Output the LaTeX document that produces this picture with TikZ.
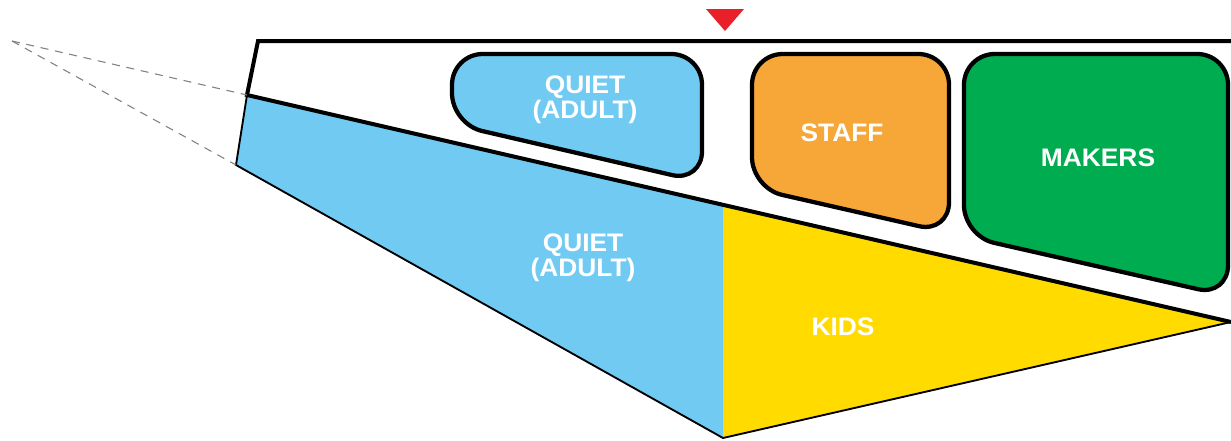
\documentclass[tikz,border=0pt]{standalone}
\usepackage{fontspec}
\setmainfont{Liberation Sans}[FakeStretch=1.04]
\usepackage{xcolor}
\usepackage{tikz}

\definecolor{quietblue}{RGB}{112,202,242}
\definecolor{staffor}{RGB}{247,166,56}
\definecolor{makergreen}{RGB}{0,172,80}
\definecolor{kidsyellow}{RGB}{255,219,0}
\definecolor{markred}{RGB}{233,32,42}

\tikzset{
  zone/.style={draw=black,line width=3.2pt,rounded corners=23pt,line join=round},
  label/.style={text=white,font=\fontsize{19}{17.5}\selectfont\bfseries,align=center,inner sep=0.75pt},
  edge/.style={draw=black,line width=1.4pt},
  sight/.style={draw=gray,line width=0.8pt,dash pattern=on 6pt off 5pt}
}

\begin{document}
\begin{tikzpicture}[x=0.75pt,y=0.75pt,yscale=-1,xscale=1]
\useasboundingbox (0,0) rectangle (1231,440);

% Shape: Polygon (lower quiet area)
\fill[quietblue] (247,95) -- (236,165) -- (723,438) -- (723,205) -- cycle;
% Shape: Polygon (kids area)
\fill[kidsyellow] (723,205) -- (723,438) -- (1231,322) -- cycle;
% Lines: thin edges
\draw[edge] (247,95) -- (236,165) -- (723,438) -- (1231,322);
% Lines: upper band
\draw[line width=3pt,line join=miter] (1231,41) -- (258,41) -- (247,95) -- (1231,322);
% Lines: dashed sight lines
\draw[sight] (12,41) -- (247,95);
\draw[sight] (12,41) -- (236,165);

% Shape: Rounded rectangles
\draw[zone,fill=quietblue] (452,54) -- (702,54) -- (702,182) -- (452,124) -- cycle;
\draw[zone,fill=staffor] (752,54) -- (949,54) -- (949,233) -- (752,188) -- cycle;
\draw[zone,fill=makergreen] (964,54) -- (1228,54) -- (1228,296) -- (964,236) -- cycle;

% Shape: Triangle marker
\fill[markred] (706,9) -- (744,9) -- (725,31) -- cycle;

% Text Node
\draw (585,100) node [label] (quietup) {QUIET\\(ADULT)};
% Text Node
\draw (842,133) node [label] (staff) {STAFF};
% Text Node
\draw (1098,158) node [label] (makers) {MAKERS};
% Text Node
\draw (583,258) node [label] (quietlow) {QUIET\\(ADULT)};
% Text Node
\draw (843,327) node [label] (kids) {KIDS};

\end{tikzpicture}
\end{document}
